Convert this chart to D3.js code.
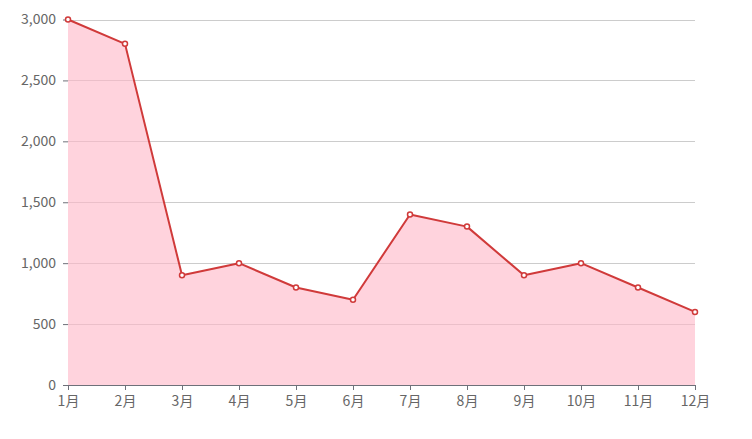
<!DOCTYPE html>
<html><head><meta charset="utf-8">
<script src="https://cdn.jsdelivr.net/npm/d3@7"></script>
<style>body{margin:0;background:#fff}svg{display:block}</style>
</head><body>
<svg id="c" width="752" height="439"></svg>
<script>
const months = ["1月","2月","3月","4月","5月","6月","7月","8月","9月","10月","11月","12月"];
const values = [3000,2800,900,1000,800,700,1400,1300,900,1000,800,600];
const yTicks = [0,500,1000,1500,2000,2500,3000];

const svg = d3.select("#c");
const x = d3.scalePoint().domain(months).range([68,695]);
const y = d3.scaleLinear().domain([0,3000]).range([385,19.5]);
const font = "'Noto Sans CJK SC','Microsoft YaHei',sans-serif";

// grid
svg.append("g").selectAll("line").data(yTicks.filter(d=>d>0)).join("line")
  .attr("x1",68).attr("x2",695).attr("y1",d=>Math.round(y(d))+0.5).attr("y2",d=>Math.round(y(d))+0.5)
  .attr("stroke","#cccccc").attr("stroke-width",1);

const data = months.map((m,i)=>({m,v:values[i]}));
svg.append("path").datum(data)
  .attr("d",d3.area().x(d=>x(d.m)).y0(y(0)).y1(d=>y(d.v)))
  .attr("fill","#ffb6c6").attr("fill-opacity",0.6);

// y axis
const ya = svg.append("g").attr("transform","translate(68,0)")
  .call(d3.axisLeft(y).tickValues(yTicks).tickFormat(d3.format(",")).tickSize(5).tickPadding(7));
ya.select(".domain").remove();
ya.selectAll("line").attr("stroke","#6e7079");
ya.selectAll("text").attr("fill","#666666").style("font-family",font).style("font-size","14px");

// x axis
const xa = svg.append("g").attr("transform","translate(0,385)")
  .call(d3.axisBottom(x).tickSize(5).tickSizeOuter(0).tickPadding(6));
xa.select(".domain").attr("stroke","#6e7079");
xa.selectAll("line").attr("stroke","#6e7079");
xa.selectAll("text").attr("fill","#666666").style("font-family",font).style("font-size","14px");

svg.append("path").datum(data)
  .attr("d",d3.line().x(d=>x(d.m)).y(d=>y(d.v)))
  .attr("fill","none").attr("stroke","#d03a3a").attr("stroke-width",2).attr("stroke-linejoin","round");

svg.append("g").selectAll("circle").data(data).join("circle")
  .attr("cx",d=>x(d.m)).attr("cy",d=>y(d.v)).attr("r",2.5)
  .attr("fill","#fff").attr("stroke","#d03a3a").attr("stroke-width",1.5);
</script>
</body></html>
